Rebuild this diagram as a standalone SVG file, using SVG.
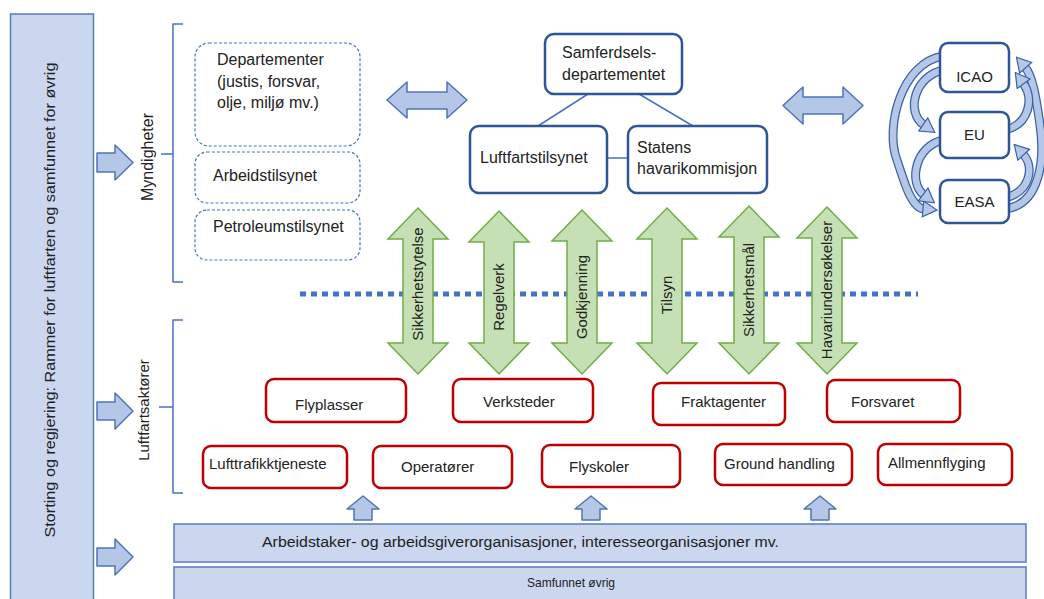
<svg xmlns="http://www.w3.org/2000/svg" width="1044" height="599" viewBox="0 0 1044 599">
<style>
.t{font-family:"Liberation Sans",Arial,sans-serif;fill:#222;}
.s13{font-size:13px}.s14{font-size:14px}.s15{font-size:15px}.s16{font-size:16px}
.red{fill:#fff;stroke:#c00000;stroke-width:2.5}
.blue{fill:#fff;stroke:#2f5597;stroke-width:2.5}
.dash{fill:#fff;stroke:#4472c4;stroke-width:1.2;stroke-dasharray:3 2}
.barrow{fill:#b4c7e7;stroke:#4f73b8;stroke-width:1.5;stroke-linejoin:round}
.garrow{fill:#c5e0b4;stroke:#70ad47;stroke-width:1.5}
.bar{fill:#cad7ee;stroke:#5a7bbd;stroke-width:1.5}
.line{stroke:#4472c4;stroke-width:1.5;fill:none}
.brace{stroke:#4472c4;stroke-width:1.5;fill:none;stroke-linejoin:round}
.arc-o{fill:none;stroke:#3a62a8;stroke-width:9}
.arc-i{fill:none;stroke:#b4c7e7;stroke-width:6.5}
</style>
<defs>
<marker id="ah" markerUnits="userSpaceOnUse" markerWidth="16" markerHeight="18" viewBox="0 0 16 18" refX="2" refY="9" orient="auto">
<path d="M1,1 L15,9 L1,17 Z" fill="#b4c7e7" stroke="#3a62a8" stroke-width="1.2"/>
</marker>
</defs>

<g id="frame">
<rect class="bar" x="10.5" y="14" width="83" height="600"/>
<text class="t s14" transform="translate(55,300) rotate(-90)" text-anchor="middle" textLength="475" lengthAdjust="spacingAndGlyphs">Storting og regjering: Rammer for luftfarten og samfunnet for øvrig</text>
<path class="barrow" d="M97,153 H115 V145 L133,162.5 L115,180 V172 H97 Z"/>
<path class="barrow" d="M97,402 H115 V393 L133,411 L115,429 V420 H97 Z"/>
<path class="barrow" d="M97,548 H115 V539 L133,557 L115,575 V566 H97 Z"/>
<text class="t s16" transform="translate(153,157) rotate(-90)" text-anchor="middle">Myndigheter</text>
<text class="t s15" transform="translate(149,410) rotate(-90)" text-anchor="middle">Luftfartsaktører</text>
<path class="brace" d="M183,24 H173 V282 H183 M173,154 H161"/>
<path class="brace" d="M183,320 H173 V493 H183 M173,407 H159"/>
</g>

<g id="departementer">
<rect class="dash" x="195" y="43" width="165" height="103" rx="14"/>
<text class="t s16" x="217" y="65">Departementer</text>
<text class="t s16" x="217" y="87">(justis, forsvar,</text>
<text class="t s16" x="217" y="108">olje, miljø mv.)</text>
</g>
<g id="arbeidstilsynet">
<rect class="dash" x="195" y="152" width="165" height="51" rx="12"/>
<text class="t s16" x="213" y="181">Arbeidstilsynet</text>
</g>
<g id="petroleumstilsynet">
<rect class="dash" x="195" y="210" width="165" height="50" rx="12"/>
<text class="t s16" x="213" y="232">Petroleumstilsynet</text>
</g>

<g id="exchange-arrows">
<path class="barrow" d="M387,100 L407,82 V92 H447 V82 L467,100 L447,118 V109 H407 V118 Z"/>
<path class="barrow" d="M783,105.5 L803,87 V97 H843 V87 L863,105.5 L843,124 V114 H803 V124 Z"/>
</g>

<g id="connectors">
<path class="line" d="M588,94 L538,126"/>
<path class="line" d="M639,94 L693,126"/>
<path class="line" d="M607,158 H628"/>
</g>

<g id="samferdsel">
<rect class="blue" x="545" y="34" width="137" height="60" rx="9"/>
<text class="t s16" x="562" y="58">Samferdsels-</text>
<text class="t s16" x="562" y="80">departementet</text>
</g>
<g id="luftfartstilsynet">
<rect class="blue" x="470" y="126" width="137" height="67" rx="9"/>
<text class="t s16" x="480" y="163">Luftfartstilsynet</text>
</g>
<g id="havarikommisjon">
<rect class="blue" x="628" y="126" width="139" height="67" rx="9"/>
<text class="t s16" x="637" y="153">Statens</text>
<text class="t s16" x="637" y="174">havarikommisjon</text>
</g>

<g id="intl-arrows">
<path class="arc-o" d="M944,56 C900,62 885,130 897,160 C905,185 912,208 924,209"/>
<path class="arc-i" d="M944,56 C900,62 885,130 897,160 C905,185 912,208 924,209" marker-end="url(#ah)"/>
<path class="arc-o" d="M944,70 C915,75 905,112 924,125"/>
<path class="arc-i" d="M944,70 C915,75 905,112 924,125" marker-end="url(#ah)"/>
<path class="arc-o" d="M944,140 C915,145 908,183 924,195"/>
<path class="arc-i" d="M944,140 C915,145 908,183 924,195" marker-end="url(#ah)"/>
<path class="arc-o" d="M1005,209 C1040,205 1045,160 1040,125 C1036,95 1032,75 1025,67"/>
<path class="arc-i" d="M1005,209 C1040,205 1045,160 1040,125 C1036,95 1032,75 1025,67" marker-end="url(#ah)"/>
<path class="arc-o" d="M1005,130 C1030,124 1034,98 1023,83"/>
<path class="arc-i" d="M1005,130 C1030,124 1034,98 1023,83" marker-end="url(#ah)"/>
<path class="arc-o" d="M1005,198 C1030,192 1035,167 1023,154"/>
<path class="arc-i" d="M1005,198 C1030,192 1035,167 1023,154" marker-end="url(#ah)"/>
</g>
<g id="icao">
<rect class="blue" x="940" y="43" width="69" height="49" rx="8"/>
<text class="t s15" x="974.5" y="82" text-anchor="middle">ICAO</text>
</g>
<g id="eu">
<rect class="blue" x="940" y="112" width="69" height="46" rx="8"/>
<text class="t s15" x="974.5" y="140" text-anchor="middle">EU</text>
</g>
<g id="easa">
<rect class="blue" x="940" y="180" width="69" height="43" rx="8"/>
<text class="t s15" x="974.5" y="207" text-anchor="middle">EASA</text>
</g>

<g id="divider">
<line x1="300" y1="294" x2="918" y2="294" stroke="#4472c4" stroke-width="5" stroke-dasharray="6 5"/>
</g>

<g id="relations">
<path class="garrow" d="M418,208 L448,239 H433 V343 H448 L418,374 L388,343 H403 V239 H388 Z"/>
<text class="t s15" transform="translate(423,284) rotate(-90)" text-anchor="middle">Sikkerhetstytelse</text>
<path class="garrow" d="M499,211 L529,242 H514 V343 H529 L499,374 L469,343 H484 V242 H469 Z"/>
<text class="t s15" transform="translate(504,297) rotate(-90)" text-anchor="middle">Regelverk</text>
<path class="garrow" d="M582,210 L612,241 H597 V343 H612 L582,374 L552,343 H567 V241 H552 Z"/>
<text class="t s15" transform="translate(587,297) rotate(-90)" text-anchor="middle">Godkjenning</text>
<path class="garrow" d="M667,208 L697,239 H682 V343 H697 L667,374 L637,343 H652 V239 H637 Z"/>
<text class="t s15" transform="translate(672,295) rotate(-90)" text-anchor="middle">Tilsyn</text>
<path class="garrow" d="M749,206 L779,237 H764 V343 H779 L749,374 L719,343 H734 V237 H719 Z"/>
<text class="t s15" transform="translate(754,290) rotate(-90)" text-anchor="middle">Sikkerhetsmål</text>
<path class="garrow" d="M827,207 L857,238 H842 V343 H857 L827,374 L797,343 H812 V238 H797 Z"/>
<text class="t s15" transform="translate(832,290) rotate(-90)" text-anchor="middle">Havariundersøkelser</text>
</g>

<g id="flyplasser"><rect class="red" x="266" y="379" width="140" height="43" rx="8"/><text class="t s15" x="295" y="410">Flyplasser</text></g>
<g id="verksteder"><rect class="red" x="453" y="379" width="140" height="43" rx="8"/><text class="t s15" x="483" y="407">Verksteder</text></g>
<g id="fraktagenter"><rect class="red" x="653" y="383" width="132" height="42" rx="8"/><text class="t s15" x="681" y="407">Fraktagenter</text></g>
<g id="forsvaret"><rect class="red" x="827" y="380" width="133" height="42" rx="8"/><text class="t s15" x="851" y="407">Forsvaret</text></g>
<g id="lufttrafikktjeneste"><rect class="red" x="203" y="446" width="144" height="42" rx="8"/><text class="t s15" x="209" y="469">Lufttrafikktjeneste</text></g>
<g id="operatorer"><rect class="red" x="373" y="446" width="139" height="42" rx="8"/><text class="t s15" x="401" y="472">Operatører</text></g>
<g id="flyskoler"><rect class="red" x="542" y="445" width="138" height="42" rx="8"/><text class="t s15" x="569" y="472">Flyskoler</text></g>
<g id="groundhandling"><rect class="red" x="715" y="444" width="137" height="41" rx="8"/><text class="t s15" x="724" y="469">Ground handling</text></g>
<g id="allmennflyging"><rect class="red" x="878" y="444" width="134" height="41" rx="8"/><text class="t s15" x="888" y="468">Allmennflyging</text></g>

<g id="up-arrows">
<path class="barrow" d="M363,496 L379,509 H372 V520 H354 V509 H347 Z"/>
<path class="barrow" d="M591,496 L607,509 H600 V520 H582 V509 H575 Z"/>
<path class="barrow" d="M820,496 L836,509 H829 V520 H811 V509 H804 Z"/>
</g>

<g id="organisasjoner">
<rect class="bar" x="174" y="524" width="852" height="38"/>
<text class="t s14" x="262" y="547" textLength="517" lengthAdjust="spacingAndGlyphs">Arbeidstaker-  og arbeidsgiverorganisasjoner,  interesseorganisasjoner  mv.</text>
</g>
<g id="samfunnet">
<rect class="bar" x="174" y="567" width="852" height="40"/>
<text class="t s13" x="527" y="587" textLength="88" lengthAdjust="spacingAndGlyphs">Samfunnet øvrig</text>
</g>
</svg>
